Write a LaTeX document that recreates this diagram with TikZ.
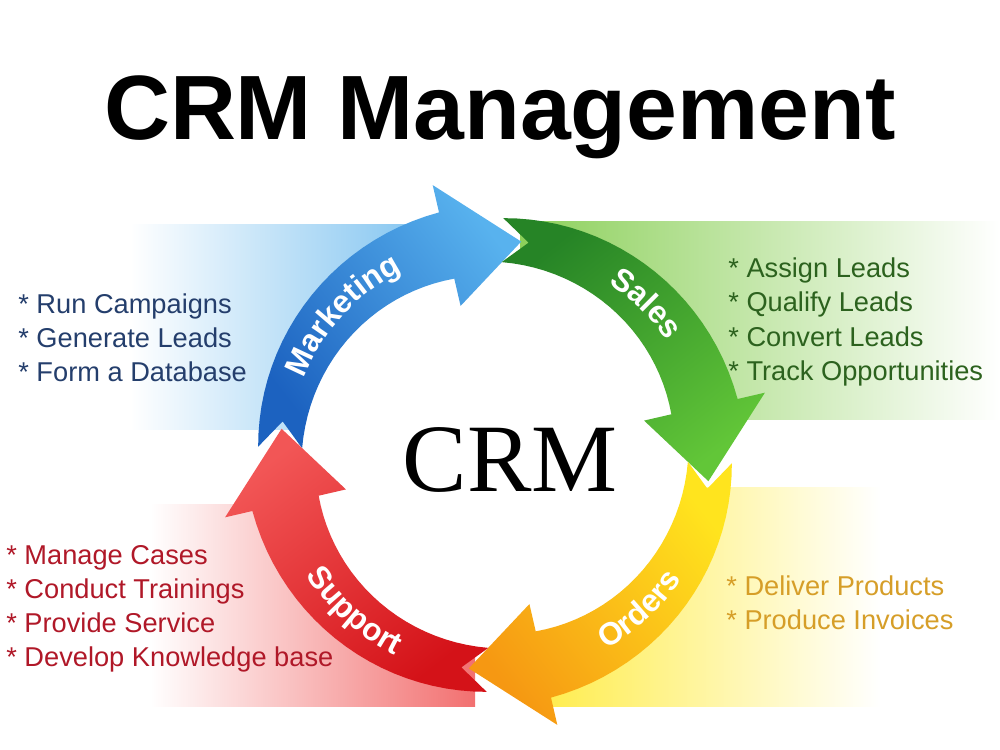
\documentclass[tikz,border=0pt]{standalone}
\usepackage{fontspec}
\setmainfont{Liberation Sans}
\newfontfamily\crmserif{Liberation Serif}
\usetikzlibrary{decorations.text}

\definecolor{mkdark}{RGB}{28,98,192}
\definecolor{mklight}{RGB}{88,178,238}
\definecolor{mkbg}{RGB}{112,188,238}
\definecolor{mktext}{RGB}{36,62,108}
\definecolor{sldark}{RGB}{38,132,38}
\definecolor{sllight}{RGB}{98,198,56}
\definecolor{slbg}{RGB}{140,208,90}
\definecolor{sltext}{RGB}{44,98,30}
\definecolor{oddark}{RGB}{255,228,30}
\definecolor{odlight}{RGB}{246,152,18}
\definecolor{odbg}{RGB}{255,236,70}
\definecolor{odtext}{RGB}{214,158,40}
\definecolor{spdark}{RGB}{212,18,24}
\definecolor{splight}{RGB}{242,86,86}
\definecolor{spbg}{RGB}{242,112,112}
\definecolor{sptext}{RGB}{176,24,40}

\newcommand\arcfont{\fontsize{18}{18}\selectfont\bfseries}

\begin{document}
\begin{tikzpicture}[x=0.02cm, y=0.02cm,
  list/.style={anchor=west, align=left, inner sep=0pt, font=\fontsize{15.5}{19.4}\selectfont},
  arclabel/.style={decorate, decoration={text along path, text align=center, text color=white}}]
  \useasboundingbox (0,0) rectangle (1000,750);

  \node[anchor=base, font=\fontsize{52}{60}\selectfont\bfseries] (title) at (500,610) {CRM Management};

  % faded panels behind the lists
  \shade[left color=white, right color=mkbg] (130,320) rectangle (470,525);
  \shade[left color=slbg, right color=white] (520,330) rectangle (1000,528);
  \shade[left color=odbg, right color=white] (530,43) rectangle (880,262);
  \shade[left color=white, right color=spbg] (150,43) rectangle (475,245);
  \fill[white] (495,295) circle[radius=3.86cm];

  % cycle arrows
  \begin{scope}[shift={(495,295)}]
    \foreach \ta/\ca/\cb/\sa in {173/mkdark/mklight/-52, 83/sldark/sllight/-142,
                                  -7/oddark/odlight/-232, -97/spdark/splight/-322}{
      \pgfmathsetmacro\tb{\ta-70}
      \pgfmathsetmacro\tp{\ta-90}
      \shade[top color=\cb, bottom color=\ca, shading angle=\sa]
        plot[domain=\ta+5:\tb, samples=24] (\x:{237+12*(\ta+5-(\x))/75})
        -- (\tb:277) -- (\tp:215) -- (\tb:153)
        -- plot[domain=\tb:\ta+5, samples=24] (\x:{193-12*(\ta+5-(\x))/75})
        -- (\ta-2:215) -- cycle;
    }
    \path[arclabel, decoration={text={|\arcfont|Marketing}}] plot[domain=175:100, samples=40] (\x:206);
    \path[arclabel, decoration={text={|\arcfont|Sales}}] plot[domain=80:10, samples=40] (\x:206);
    \path[arclabel, decoration={text={|\arcfont|Orders}}] plot[domain=-82:-12, samples=40] (\x:224);
    \path[arclabel, decoration={text={|\arcfont|Support}}] plot[domain=193:263, samples=40] (\x:224);
  \end{scope}

  \node[anchor=base] (crm) at (510,258) {\crmserif\fontsize{55}{60}\selectfont CRM};

  \node[list, text=mktext] (mklist) at (18,412) {* Run Campaigns\\* Generate Leads\\* Form a Database};
  \node[list, text=sltext] (sllist) at (728,428) {* Assign Leads\\* Qualify Leads\\* Convert Leads\\* Track Opportunities};
  \node[list, text=odtext] (odlist) at (726,147) {* Deliver Products\\* Produce Invoices};
  \node[list, text=sptext] (splist) at (6,141) {* Manage Cases\\* Conduct Trainings\\* Provide Service\\* Develop Knowledge base};
\end{tikzpicture}
\end{document}
